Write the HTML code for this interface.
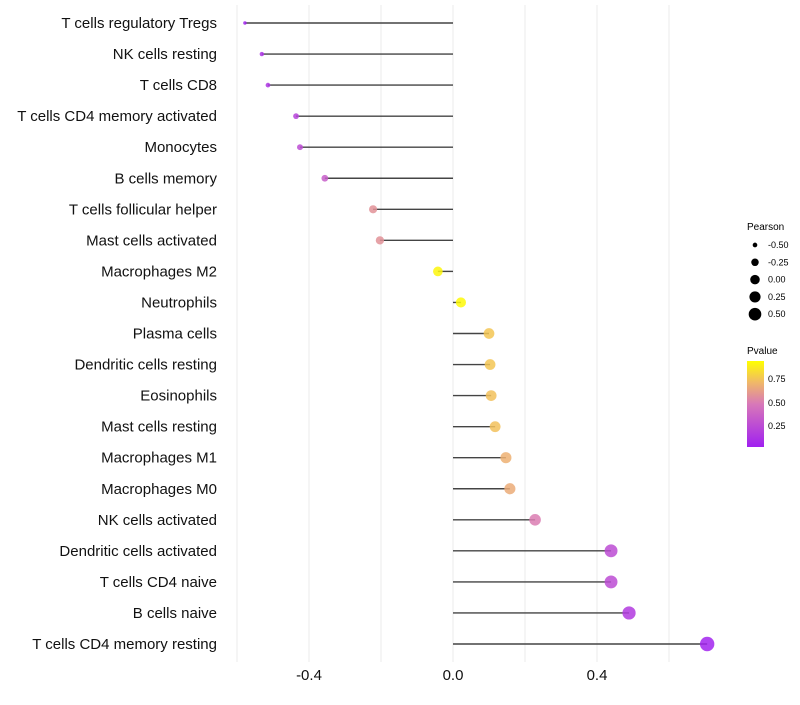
<!DOCTYPE html>
<html><head><meta charset="utf-8"><style>
body{margin:0;background:#fff;font-family:"Liberation Sans",sans-serif}
</style></head><body>
<svg id="chart" width="800" height="700" xmlns="http://www.w3.org/2000/svg">
<defs><linearGradient id="pg" x1="0" y1="1" x2="0" y2="0">
<stop offset="0" stop-color="#a020f0"/><stop offset="0.5" stop-color="#d878b8"/><stop offset="0.75" stop-color="#f0b868"/><stop offset="1" stop-color="#ffff00"/></linearGradient></defs>
<g id="grid"></g><g id="marks"></g><g id="labels"></g>
<g font-size="10">
<text x="747" y="230" fill="#000">Pearson</text>
<g id="sizeleg"></g>
</g>
<g font-size="10">
<text x="747" y="354" fill="#000">Pvalue</text>
<rect x="747" y="361" width="17" height="86" fill="url(#pg)"/>
<text x="768" y="382" font-size="9">0.75</text>
<text x="768" y="406" font-size="9">0.50</text>
<text x="768" y="429" font-size="9">0.25</text>
</g>
</svg>
<script>
const categories=["T cells regulatory  Tregs","NK cells resting","T cells CD8","T cells CD4 memory activated","Monocytes","B cells memory","T cells follicular helper","Mast cells activated","Macrophages M2","Neutrophils","Plasma cells","Dendritic cells resting","Eosinophils","Mast cells resting","Macrophages M1","Macrophages M0","NK cells activated","Dendritic cells activated","T cells CD4 naive","B cells naive","T cells CD4 memory resting"];
const pearson=[-0.578,-0.531,-0.514,-0.436,-0.425,-0.356,-0.222,-0.203,-0.042,0.022,0.1,0.103,0.106,0.117,0.147,0.158,0.228,0.439,0.439,0.489,0.706];
const pvalues=[0.02,0.1,0.12,0.2,0.25,0.35,0.6,0.6,0.97,0.98,0.8,0.8,0.78,0.78,0.72,0.7,0.52,0.25,0.25,0.15,0.02];
const ticks=[-0.4,0.0,0.4];
const tickLabels=["-0.4","0.0","0.4"];
const sizeLegend=[-0.5,-0.25,0,0.25,0.5];
const sizeLegendLabels=["-0.50","-0.25","0.00","0.25","0.50"];
const NS="http://www.w3.org/2000/svg";
const x=v=>453+v*360;
const y=i=>23+i*31.05;
const r=v=>Math.sqrt(Math.max(1.5,25+38*v));
function lerp(a,b,t){return a.map((c,k)=>Math.round(c+(b[k]-c)*t));}
const stops=[[0,[160,32,240]],[0.5,[216,120,184]],[0.75,[240,184,104]],[1,[255,255,0]]];
function col(p){for(let k=0;k<stops.length-1;k++){if(p<=stops[k+1][0]){const t=(p-stops[k][0])/(stops[k+1][0]-stops[k][0]);return "rgb("+lerp(stops[k][1],stops[k+1][1],t).join(",")+")";}}return "rgb(255,255,0)";}
function mk(tag,attrs,parent){const e=document.createElementNS(NS,tag);for(const k in attrs)e.setAttribute(k,attrs[k]);parent.appendChild(e);return e;}
const grid=document.getElementById("grid"),marks=document.getElementById("marks"),labels=document.getElementById("labels");
for(let k=-3;k<=3;k++){const v=k*0.2;const g=mk("line",{x1:x(v),x2:x(v),y1:5,y2:662,stroke:"#ebebeb","stroke-width":1},grid);

}
ticks.forEach((t,i)=>{const e=mk("text",{x:x(t),y:680,"text-anchor":"middle","font-size":15,fill:"#111"},labels);e.textContent=tickLabels[i];

});
categories.forEach((c,i)=>{
const t=mk("text",{x:217,y:y(i)+5,"text-anchor":"end","font-size":15,fill:"#111"},labels);t.textContent=c;


const l=mk("line",{x1:x(0),x2:x(pearson[i]),y1:y(i),y2:y(i),stroke:"#444","stroke-width":1.4},marks);


const d=mk("circle",{cx:x(pearson[i]),cy:y(i),r:r(pearson[i]),fill:col(pvalues[i]),"fill-opacity":0.85},marks);


});
const sl=document.getElementById("sizeleg");
sizeLegend.forEach((v,i)=>{const cy=245+i*17.3;
const c=mk("circle",{cx:755,cy:cy,r:r(v)*0.95,fill:"#000"},sl);


const t=mk("text",{x:768,y:cy+3,"font-size":9},sl);t.textContent=sizeLegendLabels[i];

});
</script>
</body></html>
